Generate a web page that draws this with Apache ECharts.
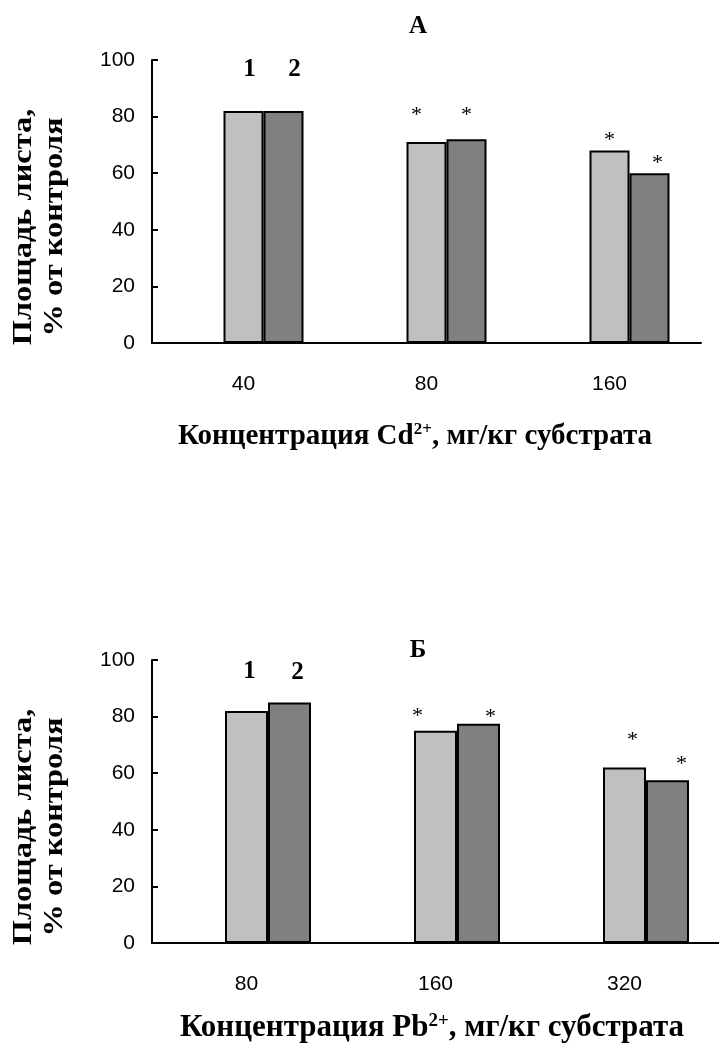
<!DOCTYPE html>
<html>
<head>
<meta charset="utf-8">
<script src="https://cdn.jsdelivr.net/npm/echarts@6/dist/echarts.min.js"></script>
<style>
  html, body { margin: 0; padding: 0; background: #fff; }
  #chart { width: 719px; height: 1049px; }
</style>
</head>
<body>
<div id="chart"></div>
<script>
// Leaf area (% of control) at three substrate concentrations of Cd2+ and Pb2+
const cdCategories = ['40', '80', '160'];
const cdSeries1 = [82, 71, 68];
const cdSeries2 = [82, 72, 60];
const cdMarks1 = ['1', '*', '*'];
const cdMarks2 = ['2', '*', '*'];

const pbCategories = ['80', '160', '320'];
const pbSeries1 = [82, 75, 62];
const pbSeries2 = [85, 77.5, 57.5];
const pbMarks1 = ['1', '*', '*'];
const pbMarks2 = ['2', '*', '*'];

const yMin = 0, yMax = 100, yStep = 20;

// label placement: [horizontal shift, height of label centre above the bar top]
const cdPlace1 = [[6, 41], [-10, 31], [0, 14]];
const cdPlace2 = [[11, 41], [0, 28], [8, 14]];
const pbPlace1 = [[3, 39], [-18, 19], [8, 31]];
const pbPlace2 = [[8, 30], [12, 10], [14, 20]];

const SERIF = '"Liberation Serif", "Times New Roman", serif';
const SANS = '"Liberation Sans", Arial, sans-serif';
const LIGHT = '#C0C0C0';
const DARK = '#808080';

function barData(values, marks, place) {
  return values.map((v, i) => {
    const star = marks[i] === '*';
    return {
      value: v,
      label: {
        show: true,
        position: 'top',
        formatter: marks[i],
        verticalAlign: 'middle',
        distance: place[i][1] - (star ? 4 : 0),
        offset: [place[i][0], 0],
        color: '#000',
        fontFamily: SERIF,
        fontWeight: star ? 'normal' : 'bold',
        fontSize: star ? 22 : 25
      }
    };
  });
}

function xAxisFor(gridIndex, cats) {
  return {
    gridIndex, type: 'category', data: cats,
    axisLine: { lineStyle: { color: '#000', width: 2 } },
    axisTick: { inside: true, length: 6, lineStyle: { color: '#000', width: 2 } },
    axisLabel: { color: '#000', fontFamily: SANS, fontSize: 21, margin: 31 }
  };
}
function yAxisFor(gridIndex) {
  return {
    gridIndex, type: 'value', min: yMin, max: yMax, interval: yStep,
    splitLine: { show: false },
    axisLine: { show: true, lineStyle: { color: '#000', width: 2 } },
    axisTick: { show: true, inside: true, length: 6, lineStyle: { color: '#000', width: 2 } },
    axisLabel: { color: '#000', fontFamily: SANS, fontSize: 21, margin: 17 }
  };
}
function seriesFor(idx, barWidth, s1, s2) {
  const base = { type: 'bar', xAxisIndex: idx, yAxisIndex: idx, barWidth, barGap: '0%',
                 animation: false, silent: true };
  return [
    // empty leading slot of each cluster (no values)
    Object.assign({}, base, { name: '', data: [] }),
    Object.assign({}, base, { name: '1', data: s1,
      itemStyle: { color: LIGHT, borderColor: '#000', borderWidth: 2 } }),
    Object.assign({}, base, { name: '2', data: s2,
      itemStyle: { color: DARK, borderColor: '#000', borderWidth: 2 } })
  ];
}

function axisTitle(x, y, ion, size) {
  return {
    type: 'text', x, y,
    style: {
      text: '{a|Концентрация ' + ion + '}{s|2+}{a|, мг/кг субстрата}',
      align: 'center', verticalAlign: 'middle',
      rich: {
        a: { fontFamily: SERIF, fontWeight: 'bold', fontSize: size, fill: '#000', lineHeight: 32 },
        s: { fontFamily: SERIF, fontWeight: 'bold', fontSize: Math.round(size * 0.6), fill: '#000',
             lineHeight: 32, verticalAlign: 'top', padding: [0, 0, 13, 0] }
      }
    }
  };
}
function yTitle(x, y) {
  return {
    type: 'text', x, y, rotation: Math.PI / 2, scaleX: 1.2,
    style: {
      text: 'Площадь листа,\n% от контроля',
      font: 'bold 27px ' + SERIF, fill: '#000',
      align: 'center', verticalAlign: 'middle', lineHeight: 31
    }
  };
}
function panelTitle(x, y, t) {
  return {
    type: 'text', x, y,
    style: { text: t, font: 'bold 25px ' + SERIF, fill: '#000', align: 'center', verticalAlign: 'middle' }
  };
}

const chart = echarts.init(document.getElementById('chart'), null, { renderer: 'canvas' });
chart.setOption({
  backgroundColor: '#fff',
  animation: false,
  grid: [
    { left: 152, top: 60, width: 549, height: 283 },
    { left: 152, top: 660, width: 575, height: 283 }
  ],
  xAxis: [xAxisFor(0, cdCategories), xAxisFor(1, pbCategories)],
  yAxis: [yAxisFor(0), yAxisFor(1)],
  series: [
    ...seriesFor(0, 40,
      barData(cdSeries1, cdMarks1, cdPlace1),
      barData(cdSeries2, cdMarks2, cdPlace2)),
    ...seriesFor(1, 43,
      barData(pbSeries1, pbMarks1, pbPlace1),
      barData(pbSeries2, pbMarks2, pbPlace2))
  ],
  graphic: [
    panelTitle(418, 27, 'А'),
    panelTitle(418, 651, 'Б'),
    yTitle(40, 227),
    yTitle(40, 827),
    axisTitle(415, 437, 'Cd', 29),
    axisTitle(432, 1028, 'Pb', 31)
  ]
});
</script>
</body>
</html>
